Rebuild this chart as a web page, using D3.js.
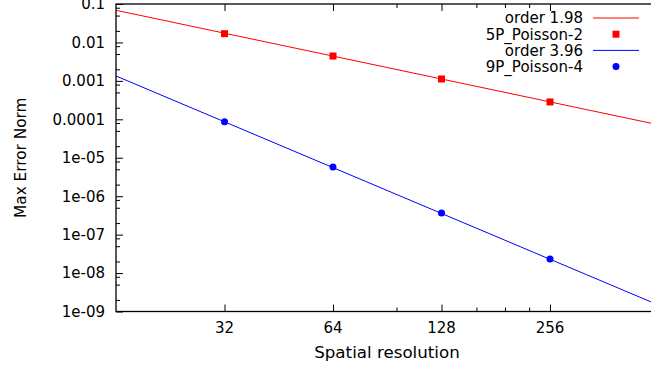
<!DOCTYPE html>
<html>
<head>
<meta charset="utf-8">
<script src="https://cdn.jsdelivr.net/npm/d3@7"></script>
<style>
  body { margin: 0; background: #fff; }
  svg { display: block; font-family: "DejaVu Sans", sans-serif; }
</style>
</head>
<body>
<div id="chart"></div>
<script>
// values
const resolution = [32, 64, 128, 256];
const poisson2 = [0.0169, 0.00443, 0.00112, 0.000283];
const poisson4 = [8.7e-5, 5.75e-6, 3.66e-7, 2.32e-8];

// fitted lines, endpoints at the x range limits
const fitRange = [16, 512];
const fit2 = [0.0686, 7.2e-5];
const fit4 = [0.00134, 1.47e-9];

const xTicks = [32, 64, 128, 256];
const xMinorTicks = [96, 160, 192, 224];
const yTicks = [1e-9, 1e-8, 1e-7, 1e-6, 1e-5, 1e-4, 1e-3, 1e-2, 1e-1];
const yTickLabels = ["1e-09", "1e-08", "1e-07", "1e-06", "1e-05", "0.0001", "0.001", "0.01", "0.1"];
const yMinorMult = [2, 5, 8];

const legendNames = ["order 1.98", "5P_Poisson-2", "order 3.96", "9P_Poisson-4"];

function draw() {
    let width = 651, height = 369;
    let left = 116, right = 658.5, top = 4, bottom = 311.5;

    let svg = d3.select("#chart").append("svg")
        .attr("width", width)
        .attr("height", height);

    let x = d3.scaleLog().base(2).domain(fitRange).range([left, right]);
    let y = d3.scaleLog().domain([1e-9, 0.1]).range([bottom, top]);

    // minor y ticks, 2 5 8 of each decade
    let yMinor = [];
    yTicks.slice(0, -1).forEach(t => yMinorMult.forEach(m => yMinor.push(t * m)));

    let fmtY = d => yTickLabels[yTicks.indexOf(d)];

    // bottom axis
    svg.append("g").attr("transform", "translate(0," + bottom + ")")
        .call(d3.axisTop(x).tickValues(xTicks).tickSize(7).tickFormat(""));
    svg.append("g").attr("transform", "translate(0," + bottom + ")")
        .call(d3.axisTop(x).tickValues(xMinorTicks).tickSize(4).tickFormat(""));
    // top mirror
    svg.append("g").attr("transform", "translate(0," + top + ")")
        .call(d3.axisBottom(x).tickValues(xTicks).tickSize(7).tickFormat(""));
    svg.append("g").attr("transform", "translate(0," + top + ")")
        .call(d3.axisBottom(x).tickValues(xMinorTicks).tickSize(4).tickFormat(""));
    // left
    svg.append("g").attr("transform", "translate(" + left + ",0)")
        .call(d3.axisRight(y).tickValues(yTicks).tickSize(7).tickFormat(""));
    svg.append("g").attr("transform", "translate(" + left + ",0)")
        .call(d3.axisRight(y).tickValues(yMinor).tickSize(4).tickFormat(""));
    // right mirror
    svg.append("g").attr("transform", "translate(" + right + ",0)")
        .call(d3.axisLeft(y).tickValues(yTicks).tickSize(7).tickFormat(""));
    svg.append("g").attr("transform", "translate(" + right + ",0)")
        .call(d3.axisLeft(y).tickValues(yMinor).tickSize(4).tickFormat(""));

    svg.selectAll(".domain").remove();
    svg.selectAll(".tick line").attr("stroke", "#000").attr("stroke-width", 1);

    // tick labels
    svg.append("g").selectAll("text")
        .data(yTicks).enter().append("text")
        .attr("x", left - 11)
        .attr("y", d => y(d))
        .attr("dy", "0.36em")
        .attr("text-anchor", "end")
        .style("font-size", "15px")
        .text(fmtY);

    svg.append("g").selectAll("text")
        .data(xTicks).enter().append("text")
        .attr("x", d => x(d))
        .attr("y", bottom + 16)
        .attr("dy", "0.36em")
        .attr("text-anchor", "middle")
        .style("font-size", "15px")
        .text(d => d);

    // border
    svg.append("rect")
        .attr("x", left).attr("y", top)
        .attr("width", right - left).attr("height", bottom - top)
        .attr("fill", "none").attr("stroke", "#000").attr("stroke-width", 1.3);

    // axis titles
    svg.append("text")
        .attr("x", 387)
        .attr("y", 352)
        .attr("dy", "0.36em")
        .attr("text-anchor", "middle")
        .style("font-size", "16.7px")
        .text("Spatial resolution");

    svg.append("text")
        .attr("transform", "translate(20," + ((top + bottom) / 2) + ") rotate(-90)")
        .attr("dy", "0.36em")
        .attr("text-anchor", "middle")
        .style("font-size", "15.3px")
        .text("Max Error Norm");

    let line = d3.line().x(d => x(d[0])).y(d => y(d[1]));

    let plot = svg.append("g");
    plot.append("path")
        .attr("d", line(d3.zip(fitRange, fit2)))
        .attr("fill", "none").attr("stroke", "#ff0000").attr("stroke-width", 1);
    plot.append("path")
        .attr("d", line(d3.zip(fitRange, fit4)))
        .attr("fill", "none").attr("stroke", "#0000ff").attr("stroke-width", 1);

    plot.selectAll(".sq")
        .data(d3.zip(resolution, poisson2)).enter().append("rect")
        .attr("x", d => x(d[0]) - 3.5)
        .attr("y", d => y(d[1]) - 3.5)
        .attr("width", 7).attr("height", 7)
        .attr("fill", "#ff0000");
    plot.selectAll(".dot")
        .data(d3.zip(resolution, poisson4)).enter().append("circle")
        .attr("cx", d => x(d[0]))
        .attr("cy", d => y(d[1]))
        .attr("r", 3.5)
        .attr("fill", "#0000ff");

    // legend
    let colors = ["#ff0000", "#ff0000", "#0000ff", "#0000ff"];
    let leg = svg.append("g");
    legendNames.forEach(function(name, i) {
        let cy = 18 + i * 16.2;
        leg.append("text")
            .attr("x", 583).attr("y", cy)
            .attr("dy", "0.36em")
            .attr("text-anchor", "end")
            .style("font-size", "15px")
            .text(name);
        if (i % 2 == 0) {
            leg.append("line")
                .attr("x1", 593).attr("x2", 639)
                .attr("y1", cy).attr("y2", cy)
                .attr("stroke", colors[i]).attr("stroke-width", 1);
        } else if (i == 1) {
            leg.append("rect")
                .attr("x", 616 - 3.5).attr("y", cy - 3.5)
                .attr("width", 7).attr("height", 7)
                .attr("fill", colors[i]);
        } else {
            leg.append("circle")
                .attr("cx", 616).attr("cy", cy).attr("r", 3.5)
                .attr("fill", colors[i]);
        }
    });
}

window.onload = () => {
    draw();
}
</script>
</body>
</html>
